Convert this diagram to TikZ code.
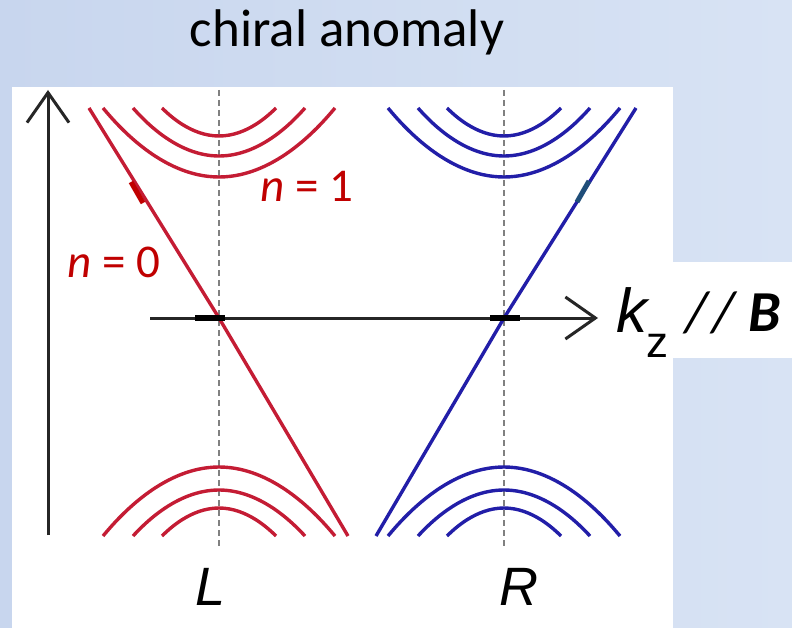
\documentclass[tikz,border=0pt]{standalone}
\usepackage{fontspec}
\setmainfont{Carlito}
\newfontfamily\helv{Liberation Sans}
\usepackage{xcolor}
\usetikzlibrary{arrows.meta, positioning, calc}

\definecolor{slideleft}{RGB}{200,214,238}
\definecolor{slideright}{RGB}{216,227,244}
\definecolor{bandred}{RGB}{196,28,52}
\definecolor{bandblue}{RGB}{34,30,168}
\definecolor{labelred}{RGB}{192,0,0}
\definecolor{tickblue}{RGB}{31,78,121}

\begin{document}
\begin{tikzpicture}[
    x=1pt, y=-1pt,
    axis/.style={line width=3pt, draw=black!85, -{Straight Barb[length=30pt, width=42pt]}},
    level/.style={line width=3.4pt},
    guide/.style={draw=gray, line width=1.4pt, dash pattern=on 6pt off 4pt},
    crossbar/.style={line width=6pt, draw=black},
    nlabel/.style={text=labelred, font=\fontsize{47}{52}\selectfont, inner sep=0pt},
    letter/.style={font=\helv\itshape\fontsize{54}{60}\selectfont, inner sep=0pt}
]
    % Slide background
    \useasboundingbox (0,0) rectangle (792,628);
    \shade[left color=slideleft, right color=slideright] (0,0) rectangle (792,628);
    \fill[white] (12,87) rectangle (673,628);
    \fill[white] (673,262) rectangle (792,358);

    % Title
    \node[anchor=base, font=\fontsize{53}{60}\selectfont, inner sep=0pt] (title) at (347,47) {chiral anomaly};

    % Weyl points
    \coordinate (L) at (219,318);
    \coordinate (R) at (504,318);

    % Guide lines
    \draw[guide] (219,90) -- (219,547);
    \draw[guide] (504,90) -- (504,547);

    % Landau levels n >= 1
    \foreach \c/\col in {219/bandred, 504/bandblue} {
        \foreach \w/\vt/\vb in {57/136/508, 86/156/490, 116/177/467} {
            \draw[level, \col] (\c-\w,108) parabola bend (\c,\vt) (\c+\w,108);
            \draw[level, \col] (\c-\w,536) parabola bend (\c,\vb) (\c+\w,536);
        }
    }

    % Chiral levels n = 0
    \draw[level, bandred] (89,108) -- (L) -- (348,536);
    \draw[level, bandblue] (376,536) -- (R) -- (636,108);
    \draw[line width=5pt, labelred] (131,182) -- (143,203);
    \draw[line width=5pt, tickblue] (577,202) -- (589,181);

    % Axes
    \draw[axis] (48,535) -- (48,90);
    \draw[axis] (150,318) -- (598,318);
    \draw[crossbar] (195,318) -- (225,318);
    \draw[crossbar] (490,318) -- (520,318);

    % Labels
    \node[nlabel] (n0) at (114,262) {\textit{n} = 0};
    \node[nlabel] (n1) at (307,186) {\textit{n} = 1};
    \node[letter, anchor=base] (Lname) at (211,605) {L};
    \node[letter, anchor=base] (Rname) at (519,605) {R};
    \node[font=\helv\itshape\fontsize{62}{68}\selectfont, anchor=base west, inner sep=0pt] (k) at (616,332) {k};
    \node[font=\helv\fontsize{44}{50}\selectfont, anchor=base west, inner sep=0pt] (z) at (646,357) {z};
    \node[font=\itshape\fontsize{58}{64}\selectfont, anchor=base, inner sep=0pt] (par) at (733,331) {/\kern5pt/ \textbf{B}};
\end{tikzpicture}
\end{document}
